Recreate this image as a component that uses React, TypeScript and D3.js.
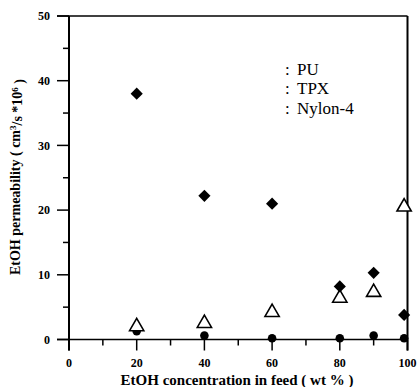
import React, { useRef, useEffect } from 'react';
import * as d3 from 'd3';

const feedConc = [20, 40, 60, 80, 90, 99];
const puValues = [38.0, 22.2, 21.0, 8.2, 10.3, 3.8];
const tpxValues = [2.0, 2.5, 4.2, 6.4, 7.3, 20.5];
const nylonValues = [1.3, 0.6, 0.2, 0.2, 0.6, 0.2];
const legendLabels = ['PU', 'TPX', 'Nylon-4'];
const xTicks = [0, 20, 40, 60, 80, 100];
const yTicks = [0, 10, 20, 30, 40, 50];

const App: React.FC = () => {
  const svgRef = useRef<SVGSVGElement | null>(null);
  const width = 419;
  const height = 387;

  useEffect(() => {
    const svg = d3.select(svgRef.current);
    svg.selectAll('*').remove();

    const x = d3.scaleLinear().domain([0, 100]).range([69, 407.5]);
    const y = d3.scaleLinear().domain([0, 50]).range([339.5, 16]);
    const serif = '"Liberation Serif", "Times New Roman", serif';

    // frame lines (axes extend past the corner)
    const axisG = svg.append('g').attr('stroke', '#000').attr('fill', 'none');
    axisG.append('line').attr('x1', 57).attr('x2', x(100)).attr('y1', y(50)).attr('y2', y(50)).attr('stroke-width', 1.3);
    axisG.append('line').attr('x1', 57).attr('x2', x(100)).attr('y1', y(0)).attr('y2', y(0)).attr('stroke-width', 1.5);
    axisG.append('line').attr('x1', x(0)).attr('x2', x(0)).attr('y1', y(50)).attr('y2', y(0) + 11).attr('stroke-width', 2);
    axisG.append('line').attr('x1', x(100)).attr('x2', x(100)).attr('y1', y(50)).attr('y2', y(0) + 11).attr('stroke-width', 2);

    // y ticks
    d3.range(0, 51, 5).forEach(v => {
      const major = v % 10 === 0;
      axisG.append('line')
        .attr('x1', x(0) - (major ? 12 : 6)).attr('x2', x(0))
        .attr('y1', y(v)).attr('y2', y(v))
        .attr('stroke-width', 1.5);
    });
    // x ticks
    d3.range(0, 101, 10).forEach(v => {
      const major = v % 20 === 0;
      axisG.append('line')
        .attr('x1', x(v)).attr('x2', x(v))
        .attr('y1', y(0)).attr('y2', y(0) + (major ? 11 : 6))
        .attr('stroke-width', 1.5);
    });

    svg.append('g').selectAll('text').data(yTicks).join('text')
      .attr('x', 50).attr('y', d => y(d)).attr('dy', '0.35em')
      .attr('text-anchor', 'end')
      .style('font-family', serif).style('font-weight', 'bold').style('font-size', '12px')
      .text(d => d);

    svg.append('g').selectAll('text').data(xTicks).join('text')
      .attr('x', d => x(d)).attr('y', 363).attr('dy', '0.35em')
      .attr('text-anchor', 'middle')
      .style('font-family', serif).style('font-weight', 'bold').style('font-size', '12px')
      .text(d => d);

    svg.append('text')
      .attr('x', 237).attr('y', 380).attr('dy', '0.35em')
      .attr('text-anchor', 'middle')
      .style('font-family', serif).style('font-weight', 'bold').style('font-size', '15px')
      .text('EtOH concentration in feed ( wt % )');

    const yl = svg.append('text')
      .attr('transform', `translate(15,177) rotate(-90)`)
      .attr('dy', '0.35em')
      .attr('text-anchor', 'middle')
      .style('font-family', serif).style('font-weight', 'bold').style('font-size', '14px');
    yl.append('tspan').text('EtOH permeability ( cm');
    yl.append('tspan').attr('dy', '-0.4em').style('font-size', '9px').text('3');
    yl.append('tspan').attr('dy', '0.4em').text('/s *10');
    yl.append('tspan').attr('dy', '-0.4em').style('font-size', '9px').text('6');
    yl.append('tspan').attr('dy', '0.4em').text(' )');

    // legend (text only, no symbols in the original)
    const leg = svg.append('g').selectAll('text').data(legendLabels).join('text')
      .attr('y', (_, i) => 74.5 + i * 19.7)
      .style('font-family', serif).style('font-size', '17px');
    leg.append('tspan').attr('x', 285).text(':');
    leg.append('tspan').attr('x', 297).text(d => d);

    // markers
    const diamond = d3.symbol().type(d3.symbolSquare).size(74);
    const triangle = d3.symbol().type(d3.symbolTriangle).size(88);

    svg.append('g').selectAll('circle').data(nylonValues).join('circle')
      .attr('cx', (_, i) => x(feedConc[i])).attr('cy', d => y(d))
      .attr('r', 4.3).attr('fill', '#000');

    svg.append('g').selectAll('path').data(tpxValues).join('path')
      .attr('d', triangle()!)
      .attr('transform', (d, i) => `translate(${x(feedConc[i])},${y(d)})`)
      .attr('fill', '#fff').attr('stroke', '#000').attr('stroke-width', 1.6);

    svg.append('g').selectAll('path').data(puValues).join('path')
      .attr('d', diamond()!)
      .attr('transform', (d, i) => `translate(${x(feedConc[i])},${y(d)}) rotate(45)`)
      .attr('fill', '#000');
  }, []);

  return (
    <svg ref={svgRef} width={width} height={height} style={{ position: 'absolute', left: 0, top: 0 }} />
  );
};

export default App;
